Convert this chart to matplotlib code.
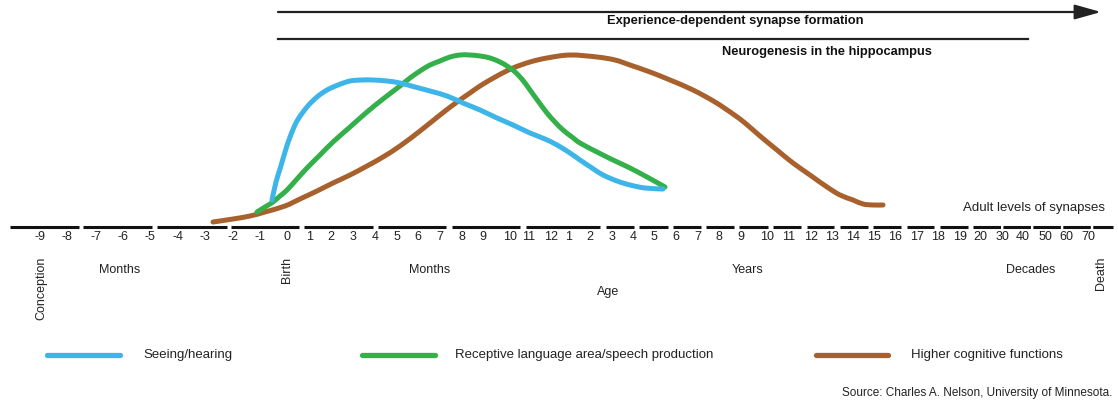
import matplotlib
matplotlib.use("Agg")
import matplotlib.pyplot as plt
from matplotlib.path import Path
from matplotlib.patches import PathPatch

plt.rcParams['font.family'] = ['Liberation Sans', 'DejaVu Sans']

# ---- data -------------------------------------------------------------
tick_labels = ["-9", "-8", "-7", "-6", "-5", "-4", "-3", "-2", "-1", "0",
               "1", "2", "3", "4", "5", "6", "7", "8", "9", "10", "11", "12",
               "1", "2", "3", "4", "5", "6", "7", "8", "9", "10", "11", "12",
               "13", "14", "15", "16", "17", "18", "19",
               "20", "30", "40", "50", "60", "70"]
tick_pos = [40, 67, 96, 123, 150, 178, 205, 233, 260, 287,
            310, 331, 353, 375, 397, 418, 440, 462, 483, 510, 529, 551,
            569, 590, 612, 633, 654, 676, 698, 719, 741, 767, 789, 811,
            832, 853, 874, 895, 917, 938, 960,
            980, 1002, 1023, 1045, 1066, 1088]

axis_segments = [(10, 79), (83, 152), (157, 227), (231, 299), (304, 373),
                 (378, 446), (452, 520), (526, 600), (606, 634), (639, 668),
                 (673, 701), (706, 734), (739, 768), (773, 801), (807, 834),
                 (840, 868), (873, 901), (907, 934), (940, 968)]
decade_segment = (973, 1113)

seeing_x = [272, 276, 280, 285, 290, 297, 307, 317, 327, 338, 350, 362, 373,
            387, 400, 415, 430, 447, 463, 480, 497, 513, 530, 545, 557, 570,
            580, 592, 603, 617, 630, 645, 663]
seeing_y = [27, 45, 58, 75, 90, 106, 120, 130, 137, 142, 146, 147, 147,
            146, 144, 140, 136, 131, 124, 117, 109, 102, 94, 88, 82, 74,
            67, 59, 52, 46, 42, 39, 38]

language_x = [257, 265, 273, 280, 287, 297, 307, 320, 333, 350, 367, 383,
              400, 410, 420, 430, 440, 450, 460, 470, 480, 490, 500, 507, 514,
              520, 525, 530, 538, 547, 555, 563, 572, 580, 597, 613, 630, 647,
              665]
language_y = [15, 20, 25, 31, 37, 48, 59, 72, 85, 100, 115, 128,
              141, 149, 156, 162, 166, 170, 172, 172, 171, 169, 165, 161, 156,
              150, 144, 137, 126, 114, 105, 97, 90, 84, 75, 67, 59, 50,
              40]

cognitive_x = [213, 233, 250, 265, 285, 300, 317, 333, 350, 367,
               383, 400, 420, 440, 457, 470, 480, 497, 513, 530,
               547, 570, 597, 615, 630, 650, 670, 693, 715, 733, 745, 760,
               777, 793, 810, 827, 840, 853, 863, 873, 883]
cognitive_y = [5, 8, 11, 15, 21, 28, 36, 44, 52, 61,
               70, 81, 96, 112, 125, 134, 141, 151, 159, 165,
               169, 172, 170, 167, 162, 155, 147, 137, 125, 113, 104, 91,
               77, 64, 52, 40, 32, 27, 23, 22, 22]

series_names = ["Seeing/hearing", "Receptive language area/speech production",
                "Higher cognitive functions"]
colors = ["#3DB5E8", "#34B04A", "#A8612C"]


def smooth_path(xs, ys):
    """Catmull-Rom curve through the given points, as a Bezier path."""
    pts = list(zip(xs, ys))
    verts = [pts[0]]
    codes = [Path.MOVETO]
    n = len(pts)
    for i in range(n - 1):
        p0 = pts[i - 1] if i > 0 else pts[i]
        p1 = pts[i]
        p2 = pts[i + 1]
        p3 = pts[i + 2] if i + 2 < n else pts[i + 1]
        c1 = (p1[0] + (p2[0] - p0[0]) / 6, p1[1] + (p2[1] - p0[1]) / 6)
        c2 = (p2[0] - (p3[0] - p1[0]) / 6, p2[1] - (p3[1] - p1[1]) / 6)
        verts += [c1, c2, p2]
        codes += [Path.CURVE4] * 3
    return Path(verts, codes)


# ---- figure -----------------------------------------------------------
fig = plt.figure(figsize=(11.18, 4.05), dpi=100)
ax = fig.add_axes([0, 0, 1, 1])
ax.set_xlim(0, 1118)
ax.set_ylim(-178, 227)
ax.axis('off')

# timeline
for a, b in axis_segments:
    ax.plot([a, b], [0, 0], color='#111111', lw=2.2, solid_capstyle='butt')
ax.plot(list(decade_segment), [0, 0], color='#111111', lw=2.2,
        linestyle=(0, (9, 0.8)), dash_capstyle='butt')

for lbl, p in zip(tick_labels, tick_pos):
    ax.text(p, -10, lbl, ha='center', va='center', fontsize=9, color='#222222')

# curves
for xs, ys, c in [(cognitive_x, cognitive_y, colors[2]),
                  (language_x, language_y, colors[1]),
                  (seeing_x, seeing_y, colors[0])]:
    patch = PathPatch(smooth_path(xs, ys), facecolor='none', edgecolor=c,
                      lw=3.6, capstyle='round', joinstyle='round')
    ax.add_patch(patch)

# top bars
ax.annotate("", xy=(1101, 215), xytext=(278, 215),
            arrowprops=dict(arrowstyle='-|>,head_length=1.6,head_width=0.45',
                            color='#222222', lw=1.6, shrinkA=0, shrinkB=0))
ax.text(735, 206, "Experience-dependent synapse formation", ha='center',
        va='center', fontsize=9.3, fontweight='bold', color='#111111')
ax.plot([278, 1028], [188, 188], color='#222222', lw=1.6)
ax.text(827, 175, "Neurogenesis in the hippocampus", ha='center',
        va='center', fontsize=9.3, fontweight='bold', color='#111111')

ax.text(1105, 19, "Adult levels of synapses", ha='right', va='center',
        fontsize=9.5, color='#222222')

# axis annotations
ax.text(41, -30, "Conception", rotation=90, ha='center', va='top',
        fontsize=9, color='#222222')
ax.text(287, -30, "Birth", rotation=90, ha='center', va='top',
        fontsize=9, color='#222222')
ax.text(1101, -30, "Death", rotation=90, ha='center', va='top',
        fontsize=9, color='#222222')
for txt, p in [("Months", 120), ("Months", 430), ("Years", 748), ("Decades", 1031)]:
    ax.text(p, -43, txt, ha='center', va='center', fontsize=9, color='#222222')
ax.text(608, -65, "Age", ha='center', va='center', fontsize=9, color='#222222')

# legend
leg_line_x = [(47, 120), (362, 435), (816, 888)]
leg_text_x = [143, 455, 911]
for name, c, (a, b), tx in zip(series_names, colors, leg_line_x, leg_text_x):
    ax.plot([a, b], [-128, -128], color=c, lw=3.8, solid_capstyle='round')
    ax.text(tx, -128, name, ha='left', va='center', fontsize=9.5,
            color='#222222')

ax.text(1112, -166, "Source: Charles A. Nelson, University of Minnesota.",
        ha='right', va='center', fontsize=8.5, color='#222222')

fig.savefig("out.png", dpi=100)
